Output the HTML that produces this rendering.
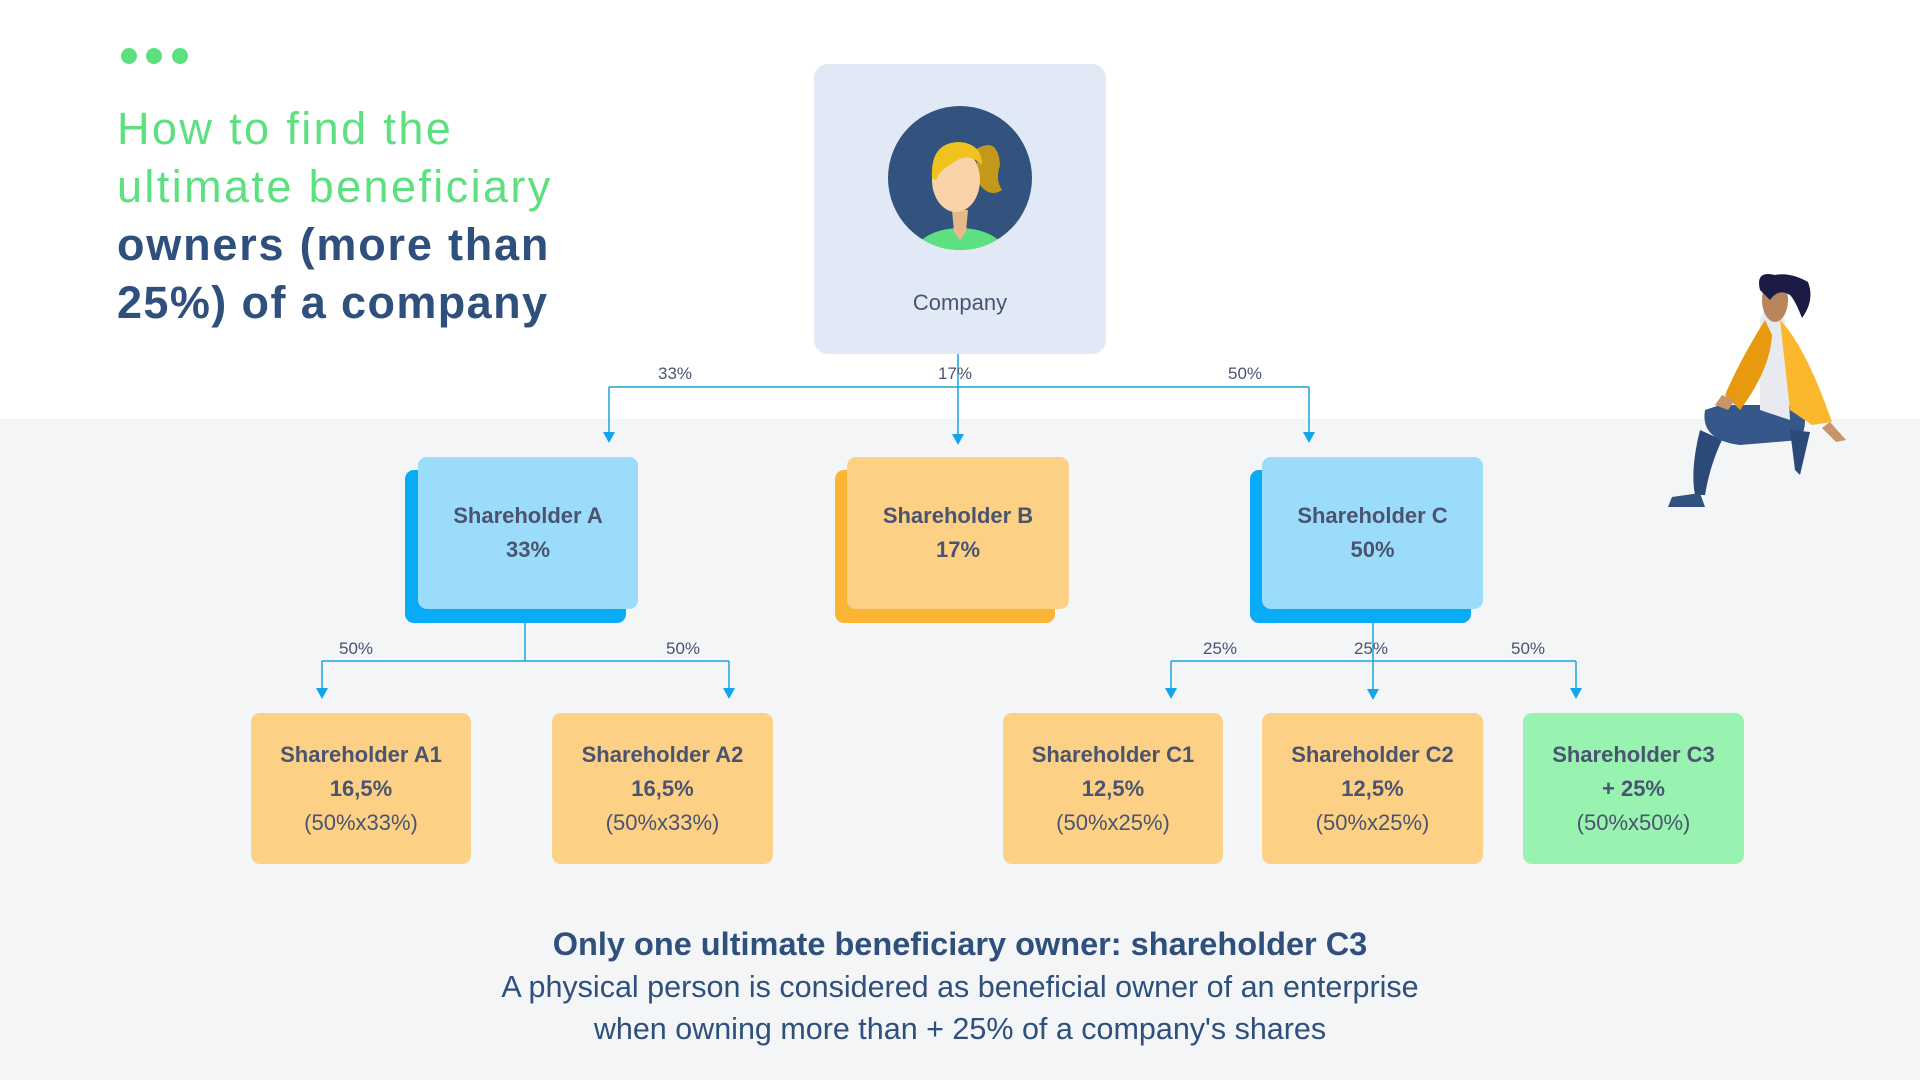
<!DOCTYPE html>
<html><head><meta charset="utf-8"><style>
*{margin:0;padding:0;box-sizing:border-box}
body{width:1920px;height:1080px;position:relative;overflow:hidden;background:#fff;font-family:"Liberation Sans",sans-serif}
.abs{position:absolute}
.bg{left:0;top:419px;width:1920px;height:661px;background:#f3f5f7}
.dot{width:16px;height:16px;border-radius:50%;background:#5de07f;top:48px}
.t{left:117px;font-size:45px;line-height:58px;white-space:nowrap;letter-spacing:2.4px}
.box{border-radius:9px;display:flex;flex-direction:column;align-items:center;justify-content:center;color:#4a5470;font-family:"Liberation Sans Narrow","Liberation Sans",sans-serif;font-size:22px;line-height:34px;text-align:center}
.box b{font-weight:bold}
.sh{border-radius:9px}
.lbl{font-size:17px;color:#4a5470;transform:translateX(-50%);font-family:"Liberation Sans Narrow","Liberation Sans",sans-serif}
</style></head><body>
<div class="abs bg"></div>
<div class="abs dot" style="left:121px"></div>
<div class="abs dot" style="left:146px"></div>
<div class="abs dot" style="left:172px"></div>
<div class="abs t" style="top:100px;color:#5de07f">How to find the</div>
<div class="abs t" style="top:158px;color:#5de07f">ultimate beneficiary</div>
<div class="abs t" style="top:216px;color:#2f4f7c;font-weight:bold;letter-spacing:1.8px">owners (more than</div>
<div class="abs t" style="top:274px;color:#2f4f7c;font-weight:bold;letter-spacing:1.4px">25%) of a company</div>

<div class="abs" style="left:814px;top:64px;width:292px;height:290px;background:#e1e9f6;border-radius:14px"></div>
<svg class="abs" style="left:0;top:0" width="1920" height="1080">
<defs><clipPath id="cc"><circle cx="960" cy="178" r="72"/></clipPath></defs>
<circle cx="960" cy="178" r="72" fill="#33537f"/>
<g clip-path="url(#cc)">
<ellipse cx="960" cy="258" rx="48" ry="30" fill="#5de07f"/>
<path d="M952 210 L968 210 L966 232 L960 240 L954 232Z" fill="#e8b98a"/>
<path d="M975 150 Q998 135 1000 165 Q995 180 1002 190 Q990 198 980 185Z" fill="#c4981a"/>
<ellipse cx="956" cy="180" rx="24" ry="32" fill="#fbd3a9"/>
<path d="M932 178 Q930 142 960 142 Q982 144 982 165 Q968 150 950 165 Q940 170 936 180Z" fill="#efc21f"/>
</g>
<g stroke="#1aa3dc" stroke-width="1.5" fill="none">
<path d="M958 354 V435 M609 387 H1309 M609 387 V433 M1309 387 V433"/>
<path d="M525 623 V661 M322 661 H729 M322 661 V690 M729 661 V690"/>
<path d="M1373 623 V690 M1171 661 H1576 M1171 661 V690 M1576 661 V690"/>
</g>
<g fill="#12a5ea">
<path d="M603 432 L615 432 L609 443Z"/><path d="M952 434 L964 434 L958 445Z"/><path d="M1303 432 L1315 432 L1309 443Z"/>
<path d="M316 688 L328 688 L322 699Z"/><path d="M723 688 L735 688 L729 699Z"/>
<path d="M1165 688 L1177 688 L1171 699Z"/><path d="M1367 689 L1379 689 L1373 700Z"/><path d="M1570 688 L1582 688 L1576 699Z"/>
</g>
<g>
<path d="M1700 430 Q1690 470 1695 495 L1705 495 Q1710 465 1722 440Z" fill="#2b4a78"/>
<path d="M1672 497 L1700 493 L1705 507 L1668 507Z" fill="#33537f"/>
<path d="M1705 410 Q1700 440 1740 445 L1800 440 Q1810 420 1800 405 L1720 405Z" fill="#35578a"/>
<path d="M1790 430 L1810 432 L1800 475 L1795 470Z" fill="#2b4a78"/>
<path d="M1768 300 L1785 320 L1790 420 L1760 410 L1760 320Z" fill="#e8eaef"/>
<path d="M1765 320 Q1740 360 1725 395 L1740 410 Q1770 370 1772 335Z" fill="#e89a0f"/>
<path d="M1780 320 Q1805 345 1832 422 L1812 425 L1790 410 Z" fill="#fbb82f"/>
<path d="M1830 422 L1846 440 L1836 442 L1822 428Z" fill="#c8956a"/>
<path d="M1722 395 L1735 400 L1728 410 L1715 405Z" fill="#c8956a"/>
<ellipse cx="1775" cy="300" rx="13" ry="22" fill="#b8855c"/>
<circle cx="1780" cy="290" r="6" fill="#b8855c"/>
<path d="M1760 290 Q1755 270 1775 275 Q1790 272 1808 282 Q1815 300 1802 318 Q1795 300 1790 295 Q1778 288 1770 300Z" fill="#1b1b45"/>
</g>
</svg>
<div class="abs box" style="left:814px;top:288px;width:292px;height:30px;color:#4a5470;font-size:22px;font-family:'Liberation Sans',sans-serif">Company</div>

<div class="abs lbl" style="left:675px;top:364px">33%</div>
<div class="abs lbl" style="left:955px;top:364px">17%</div>
<div class="abs lbl" style="left:1245px;top:364px">50%</div>
<div class="abs lbl" style="left:356px;top:639px">50%</div>
<div class="abs lbl" style="left:683px;top:639px">50%</div>
<div class="abs lbl" style="left:1220px;top:639px">25%</div>
<div class="abs lbl" style="left:1371px;top:639px">25%</div>
<div class="abs lbl" style="left:1528px;top:639px">50%</div>

<div class="abs sh" style="left:405px;top:470px;width:221px;height:153px;background:#0aabf6"></div>
<div class="abs box" style="left:418px;top:457px;width:220px;height:152px;background:#9bdcfb;justify-content:flex-start;padding-top:42px"><b>Shareholder A</b><b>33%</b></div>
<div class="abs sh" style="left:835px;top:470px;width:220px;height:153px;background:#fbb534"></div>
<div class="abs box" style="left:847px;top:457px;width:222px;height:152px;background:#fdd185;justify-content:flex-start;padding-top:42px"><b>Shareholder B</b><b>17%</b></div>
<div class="abs sh" style="left:1250px;top:470px;width:221px;height:153px;background:#0aabf6"></div>
<div class="abs box" style="left:1262px;top:457px;width:221px;height:152px;background:#9bdcfb;justify-content:flex-start;padding-top:42px"><b>Shareholder C</b><b>50%</b></div>

<div class="abs box" style="left:251px;top:713px;width:220px;height:151px;background:#fdd185"><b>Shareholder A1</b><b>16,5%</b><span>(50%x33%)</span></div>
<div class="abs box" style="left:552px;top:713px;width:221px;height:151px;background:#fdd185"><b>Shareholder A2</b><b>16,5%</b><span>(50%x33%)</span></div>
<div class="abs box" style="left:1003px;top:713px;width:220px;height:151px;background:#fdd185"><b>Shareholder C1</b><b>12,5%</b><span>(50%x25%)</span></div>
<div class="abs box" style="left:1262px;top:713px;width:221px;height:151px;background:#fdd185"><b>Shareholder C2</b><b>12,5%</b><span>(50%x25%)</span></div>
<div class="abs box" style="left:1523px;top:713px;width:221px;height:151px;background:#98f3b0"><b>Shareholder C3</b><b>+ 25%</b><span>(50%x50%)</span></div>

<div class="abs" style="left:0;top:922px;width:1920px;text-align:center;color:#2f4f7c;font-family:'Liberation Sans Narrow','Liberation Sans',sans-serif">
<div style="font-size:32.5px;font-weight:bold;line-height:44px">Only one ultimate beneficiary owner: shareholder C3</div>
<div style="font-size:30.5px;line-height:42px">A physical person is considered as beneficial owner of an enterprise</div>
<div style="font-size:30.5px;line-height:42px">when owning more than + 25% of a company's shares</div>
</div>
</body></html>
